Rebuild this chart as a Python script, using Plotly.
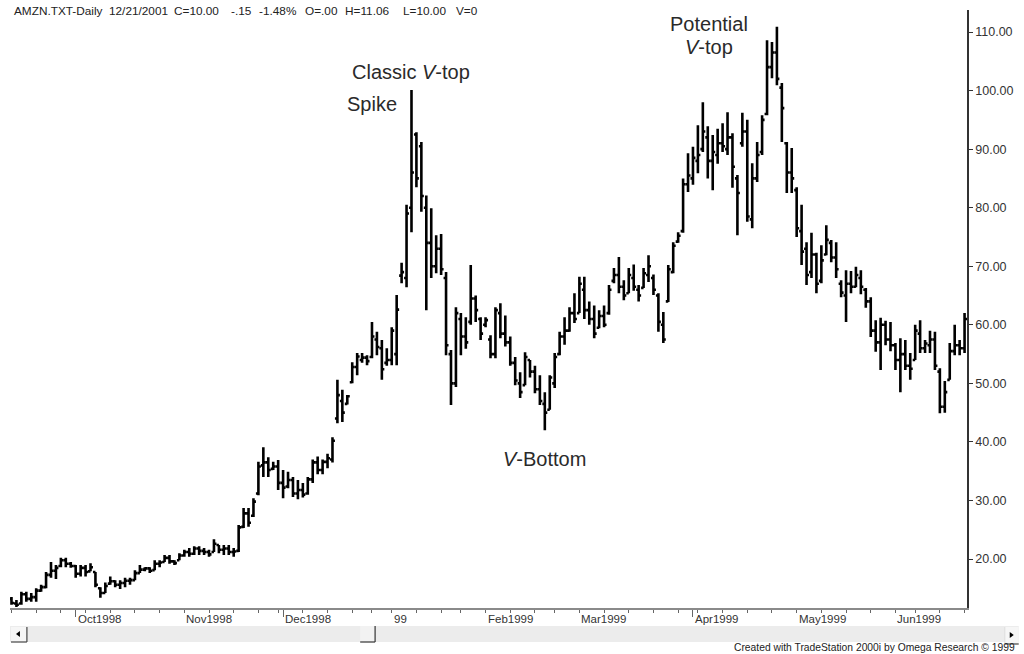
import pandas as pd
import plotly.graph_objects as go

# ---------------- data ----------------
start_date = "1998-09-14"
end_date = "1999-06-21"
holidays = ["1998-11-26", "1998-12-25", "1999-01-01", "1999-01-18",
            "1999-02-15", "1999-04-02", "1999-05-31"]

month_labels = ["Oct1998", "Nov1998", "Dec1998", "99", "Feb1999",
                "Mar1999", "Apr1999", "May1999", "Jun1999"]

y_ticks = [20, 30, 40, 50, 60, 70, 80, 90, 100, 110]

highs = [13.5, 13.0, 14.4, 14.4, 14.2, 15.0, 15.6, 17.8, 19.5, 19.0,
         20.2, 20.2, 19.5, 19.0, 19.0, 19.0, 19.3, 17.8, 15.2, 16.0,
         17.0, 16.4, 16.4, 16.8, 16.8, 18.1, 19.0, 18.6, 18.6, 19.8,
         19.8, 20.7, 20.7, 19.8, 21.0, 21.6, 21.9, 22.2, 22.2, 21.9,
         21.6, 23.4, 22.4, 22.4, 22.4, 21.9, 25.8, 28.7, 28.7, 30.4,
         36.6, 39.1, 37.4, 36.6, 36.9, 35.2, 34.9, 34.0, 33.5, 33.0,
         34.0, 37.0, 37.5, 37.0, 38.0, 40.8, 50.6, 48.9, 48.0, 53.6,
         55.2, 55.2, 54.8, 60.5, 58.8, 57.4, 56.0, 59.6, 65.1, 70.6,
         80.5, 100.1, 92.9, 91.2, 82.1, 79.9, 75.3, 75.5, 69.0, 55.7,
         63.0, 62.0, 61.3, 70.2, 65.0, 61.3, 61.3, 58.2, 63.0, 63.7,
         61.6, 58.0, 54.5, 51.9, 55.3, 54.0, 53.0, 51.4, 48.5, 51.4,
         55.2, 58.8, 61.3, 63.0, 65.4, 68.2, 68.2, 64.0, 63.3, 62.5,
         63.3, 66.8, 69.7, 71.6, 67.6, 69.7, 70.3, 66.8, 69.7, 71.9,
         68.6, 65.4, 62.2, 70.2, 74.1, 75.8, 85.0, 89.3, 90.4, 94.1,
         98.0, 93.9, 92.4, 93.5, 94.4, 96.3, 92.7, 85.6, 96.2, 95.0,
         87.6, 91.2, 95.8, 108.6, 108.3, 110.9, 101.3, 91.2, 90.2, 83.5,
         80.5, 74.1, 75.7, 72.3, 73.6, 77.0, 74.5, 74.1, 67.6, 69.3,
         69.2, 69.9, 69.3, 66.3, 64.7, 60.8, 61.2, 60.7, 60.5, 56.9,
         57.7, 57.4, 55.2, 60.0, 60.8, 57.4, 59.0, 58.8, 52.6, 50.4,
         56.9, 60.0, 57.4, 62.0]

lows = [12.2, 11.8, 12.2, 12.7, 12.7, 12.7, 14.4, 15.0, 16.8, 16.6,
        18.6, 18.6, 18.5, 16.8, 17.0, 17.0, 17.9, 15.2, 13.4, 14.2,
        15.6, 15.2, 14.9, 15.2, 15.6, 16.4, 17.6, 17.9, 17.6, 18.1,
        18.6, 19.5, 19.2, 19.0, 19.8, 20.4, 20.4, 20.7, 20.7, 20.7,
        20.4, 21.2, 21.0, 20.7, 20.7, 20.4, 21.2, 25.3, 25.5, 27.2,
        30.9, 34.0, 34.0, 35.2, 31.8, 30.4, 32.1, 30.6, 30.2, 30.5,
        31.0, 33.0, 34.5, 34.5, 35.5, 36.5, 43.2, 43.4, 46.4, 50.0,
        51.4, 53.5, 53.1, 54.3, 54.8, 50.6, 53.0, 53.1, 53.1, 67.1,
        66.4, 75.8, 83.5, 79.3, 62.5, 68.0, 68.8, 68.5, 54.8, 46.3,
        49.4, 54.8, 55.9, 60.0, 60.5, 57.4, 59.6, 54.3, 54.3, 57.7,
        56.3, 53.0, 49.7, 47.5, 49.7, 51.0, 48.3, 46.3, 42.0, 45.5,
        49.2, 54.8, 56.6, 58.8, 60.3, 62.0, 61.0, 60.0, 57.7, 59.4,
        59.6, 61.7, 67.1, 65.4, 64.2, 65.4, 65.8, 64.0, 66.3, 67.3,
        65.1, 58.8, 56.9, 63.9, 68.8, 74.0, 75.7, 82.7, 83.9, 85.9,
        89.5, 85.0, 83.0, 87.5, 89.5, 89.0, 83.4, 75.3, 90.4, 77.6,
        76.5, 84.4, 89.0, 95.8, 102.1, 100.9, 91.2, 82.5, 82.5, 75.0,
        70.2, 66.8, 68.0, 65.4, 67.1, 71.9, 70.7, 68.0, 64.7, 60.5,
        65.4, 66.4, 65.2, 62.9, 57.9, 55.4, 52.3, 56.5, 55.5, 52.3,
        48.5, 52.3, 50.6, 54.0, 55.2, 55.2, 55.2, 52.3, 44.9, 45.0,
        50.6, 54.8, 54.8, 55.2]

opens = [13.2, 12.4, 12.4, 14.0, 13.2, 13.5, 14.6, 15.2, 17.3, 18.0,
         18.8, 19.8, 19.2, 18.8, 17.5, 18.5, 17.9, 17.8, 15.0, 14.2,
         15.8, 16.2, 15.6, 15.9, 16.3, 16.4, 17.6, 18.2, 18.4, 18.1,
         19.2, 19.5, 20.2, 19.6, 19.8, 20.6, 21.2, 20.9, 21.8, 21.4,
         21.2, 21.2, 22.4, 21.6, 21.8, 21.2, 21.4, 25.5, 27.8, 27.4,
         31.2, 36.0, 36.5, 35.4, 35.8, 33.0, 32.4, 33.5, 31.2, 31.8,
         31.2, 33.6, 36.5, 35.2, 36.6, 37.0, 44.0, 47.0, 46.5, 50.2,
         52.8, 54.0, 54.4, 54.5, 57.5, 56.0, 53.5, 54.0, 55.0, 68.4,
         68.0, 80.0, 92.5, 90.5, 80.0, 74.0, 70.0, 73.0, 68.0, 55.0,
         50.0, 61.0, 58.0, 60.5, 64.5, 61.0, 60.0, 57.5, 55.0, 62.0,
         58.5, 57.0, 53.5, 50.0, 49.7, 54.0, 52.0, 49.0, 46.5, 45.5,
         50.0, 55.0, 58.0, 59.0, 62.0, 62.0, 66.0, 62.5, 61.0, 59.5,
         61.5, 62.0, 67.5, 68.5, 66.5, 65.4, 68.0, 66.0, 66.3, 68.5,
         68.0, 65.0, 60.0, 64.0, 69.0, 74.2, 76.0, 84.0, 85.0, 88.0,
         90.0, 92.0, 88.0, 89.0, 91.0, 90.0, 92.0, 85.0, 91.0, 93.0,
         78.0, 85.0, 89.5, 96.0, 104.0, 106.5, 100.5, 91.0, 86.0, 83.0,
         76.0, 73.0, 69.0, 72.0, 67.5, 72.0, 74.0, 71.5, 67.0, 65.0,
         67.0, 66.5, 68.0, 66.0, 64.0, 59.0, 57.0, 60.0, 57.5, 56.5,
         54.0, 55.0, 53.0, 54.0, 58.5, 56.0, 56.5, 57.5, 52.0, 46.0,
         50.6, 55.5, 56.5, 56.0]

closes = [12.5, 12.2, 14.0, 13.2, 13.5, 14.6, 15.2, 17.3, 18.0, 18.5,
          19.8, 19.2, 18.8, 17.5, 18.5, 17.8, 18.6, 15.6, 14.2, 15.4,
          16.2, 15.6, 15.9, 16.3, 16.4, 17.6, 18.2, 18.4, 18.0, 19.2,
          19.4, 20.2, 19.6, 19.3, 20.6, 21.2, 20.9, 21.8, 21.4, 21.2,
          20.8, 22.6, 21.6, 21.8, 21.2, 21.3, 25.4, 27.8, 26.2, 29.8,
          35.8, 36.5, 35.2, 35.8, 33.0, 32.2, 33.5, 31.2, 31.8, 31.0,
          33.6, 36.5, 35.2, 36.6, 37.2, 40.2, 48.0, 45.0, 47.8, 52.8,
          54.6, 54.4, 53.8, 58.0, 56.2, 52.4, 54.0, 59.0, 62.6, 69.0,
          79.0, 86.0, 85.0, 82.0, 74.0, 70.0, 73.0, 69.5, 56.5, 50.0,
          62.0, 58.0, 57.0, 64.5, 62.5, 58.5, 60.8, 55.0, 62.5, 58.5,
          57.0, 53.5, 50.5, 48.5, 54.5, 52.0, 49.0, 47.0, 45.0, 51.0,
          54.5, 58.0, 59.0, 62.0, 61.0, 67.0, 62.5, 61.0, 58.5, 61.5,
          60.0, 66.0, 68.5, 66.5, 65.0, 68.5, 66.5, 65.0, 68.8, 70.0,
          66.0, 60.5, 57.5, 69.5, 73.5, 75.2, 84.0, 85.5, 88.5, 89.0,
          93.0, 88.0, 89.5, 91.0, 90.5, 92.0, 87.0, 82.5, 93.0, 78.5,
          85.0, 89.0, 95.0, 104.0, 106.5, 102.0, 97.0, 86.0, 85.0, 76.5,
          72.5, 68.5, 72.0, 67.0, 71.0, 74.5, 71.5, 69.5, 65.5, 67.0,
          66.5, 68.5, 66.5, 64.0, 59.0, 57.0, 60.0, 57.5, 56.5, 54.0,
          55.0, 53.0, 52.5, 59.0, 56.0, 56.8, 57.5, 53.0, 46.0, 48.5,
          55.5, 56.5, 56.0, 61.0]

header_tokens = ["AMZN.TXT-Daily", "12/21/2001", "C=10.00", "-.15", "-1.48%",
                 "O=.00", "H=11.06", "L=10.00", "V=0"]
credit_text = "Created with TradeStation 2000i by Omega Research \u00a9 1999"

# ---------------- derived categories ----------------
dates = [d for d in pd.bdate_range(start_date, end_date)
         if d.strftime("%Y-%m-%d") not in holidays]
xs = list(range(len(dates)))
month_idx = [i for i in range(1, len(dates)) if dates[i].month != dates[i - 1].month]
week_idx = [i for i in range(len(dates))
            if i == 0 or dates[i].weekday() < dates[i - 1].weekday()]

# ---------------- layout geometry ----------------
W, H = 1024, 654
L, R, T, B = 10, 52, 10, 46
PW, PH = W - L - R, H - T - B


def px(x):
    return (x - L) / PW


def py(y):
    return (H - B - y) / PH


FONT = "Liberation Sans, Arial, sans-serif"

fig = go.Figure(go.Ohlc(
    x=xs, open=opens, high=highs, low=lows, close=closes,
    text=[d.strftime("%Y-%m-%d") for d in dates],
    increasing=dict(line=dict(color="black", width=2.6)),
    decreasing=dict(line=dict(color="black", width=2.6)),
    tickwidth=0.5, showlegend=False,
))

annotations = []
for i, lab in zip(month_idx, month_labels):
    annotations.append(dict(x=i, y=py(611), xref="x", yref="paper", text=lab,
                            showarrow=False, xanchor="left", yanchor="top", xshift=0,
                            font=dict(family=FONT, size=11.5, color="#333")))

label_font = dict(family=FONT, size=20, color="#2a2a2a")
chart_labels = [
    dict(x=px(413.5), y=py(72), text="Classic <i>V</i>-top"),
    dict(x=px(373.5), y=py(104), text="Spike"),
    dict(x=px(712.5), y=py(24), text="Potential"),
    dict(x=px(712.5), y=py(47), text="<i>V</i>-top"),
    dict(x=px(547), y=py(459), text="<i>V</i>-Bottom"),
]
for a in chart_labels:
    a.update(xref="paper", yref="paper", showarrow=False, xanchor="center",
             yanchor="middle", font=label_font)
annotations += chart_labels

header_x = [12, 108, 173, 230, 258, 305, 345, 403, 456]
for hx, tok in zip(header_x, header_tokens):
    annotations.append(dict(x=px(hx), y=py(11), xref="paper", yref="paper", text=tok,
                            showarrow=False, xanchor="left", yanchor="middle",
                            font=dict(family=FONT, size=11.8, color="#222")))

annotations.append(dict(x=px(1022), y=py(647), xref="paper", yref="paper", text=credit_text,
                        showarrow=False, xanchor="right", yanchor="middle",
                        font=dict(family=FONT, size=10.3, color="#222")))

shapes = [
    # scrollbar track
    dict(type="rect", xref="paper", yref="paper", x0=px(10), x1=px(1024), y0=py(642), y1=py(626),
         fillcolor="#ececec", line=dict(width=0), layer="above"),
    # left button
    dict(type="rect", xref="paper", yref="paper", x0=px(11), x1=px(27), y0=py(642), y1=py(627),
         fillcolor="#f6f6f6", line=dict(width=0)),
    dict(type="line", xref="paper", yref="paper", x0=px(11), x1=px(27), y0=py(642), y1=py(642),
         line=dict(color="#444", width=1.2)),
    dict(type="line", xref="paper", yref="paper", x0=px(27), x1=px(27), y0=py(627), y1=py(642),
         line=dict(color="#444", width=1.2)),
    dict(type="path", xref="paper", yref="paper",
         path=f"M {px(16)} {py(634)} L {px(20)} {py(631)} L {px(20)} {py(637)} Z",
         fillcolor="black", line=dict(width=0)),
    # thumb
    dict(type="rect", xref="paper", yref="paper", x0=px(362), x1=px(377), y0=py(642), y1=py(626),
         fillcolor="#f2f2f2", line=dict(width=0)),
    dict(type="line", xref="paper", yref="paper", x0=px(362), x1=px(377), y0=py(642), y1=py(642),
         line=dict(color="#333", width=1.2)),
    dict(type="line", xref="paper", yref="paper", x0=px(377), x1=px(377), y0=py(626), y1=py(642),
         line=dict(color="#333", width=1.2)),
    # right button
    dict(type="rect", xref="paper", yref="paper", x0=px(1010), x1=px(1024), y0=py(644), y1=py(627),
         fillcolor="#f6f6f6", line=dict(width=0)),
    dict(type="line", xref="paper", yref="paper", x0=px(1010), x1=px(1024), y0=py(644), y1=py(644),
         line=dict(color="#444", width=1.2)),
    dict(type="line", xref="paper", yref="paper", x0=px(1010), x1=px(1010), y0=py(627), y1=py(644),
         line=dict(color="#ddd", width=1)),
    dict(type="path", xref="paper", yref="paper",
         path=f"M {px(1019)} {py(635)} L {px(1015)} {py(632)} L {px(1015)} {py(638)} Z",
         fillcolor="black", line=dict(width=0)),
]

fig.update_layout(
    width=W, height=H,
    margin=dict(l=L, r=R, t=T, b=B, pad=0),
    paper_bgcolor="white", plot_bgcolor="white",
    showlegend=False,
    annotations=annotations,
    shapes=shapes,
    xaxis=dict(
        range=[(L - 11.5) / 4.964, (W - R - 11.5) / 4.964],
        rangeslider=dict(visible=False),
        showgrid=False, zeroline=False,
        showline=True, linecolor="#8a8a8a", linewidth=1.5,
        tickmode="array", tickvals=month_idx, ticktext=[""] * len(month_idx),
        ticks="outside", ticklen=7, tickwidth=1.2, tickcolor="#666",
        showticklabels=False,
        minor=dict(tickmode="array", tickvals=week_idx, ticks="outside",
                   ticklen=3, tickwidth=1.2, tickcolor="#666", showgrid=False),
        fixedrange=True,
    ),
    yaxis=dict(
        side="right",
        range=[11.64, 113.76],
        showgrid=False, zeroline=False,
        showline=True, linecolor="#333", linewidth=1.5,
        tickmode="array", tickvals=y_ticks, tickformat=".2f",
        ticks="outside", ticklen=4, tickwidth=1.2, tickcolor="#333",
        tickfont=dict(family=FONT, size=12.5, color="#333"),
        fixedrange=True,
    ),
)

fig.write_html("out.html", config={"displayModeBar": False},
               post_script="document.body.style.margin='0';document.body.style.overflow='hidden';")
